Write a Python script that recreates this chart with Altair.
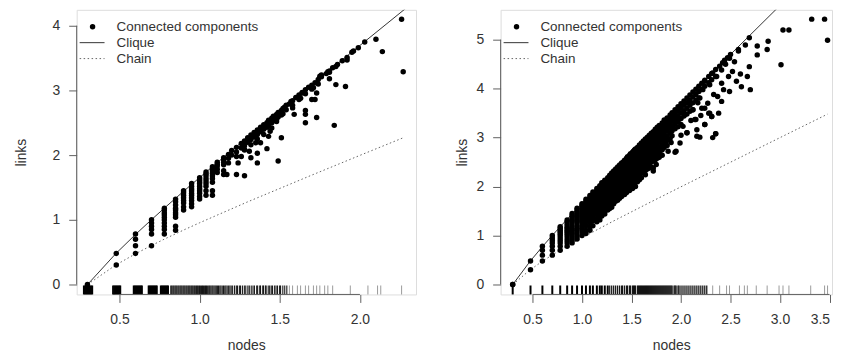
import altair as alt
import pandas as pd

# ---------------- LEFT PANEL DATA (log10 nodes, log10 links) ----------------
left_col_x = [0.30, 0.48, 0.60, 0.70, 0.78, 0.85, 0.90, 0.95, 1.00, 1.04, 1.08, 1.11, 1.15]
left_col_y = [
    [0.00],
    [0.48, 0.30],
    [0.78, 0.70, 0.60, 0.48],
    [1.00, 0.95, 0.90, 0.85, 0.78, 0.60],
    [1.18, 1.15, 1.11, 1.08, 1.04, 1.00, 0.95, 0.90, 0.85, 0.78],
    [1.32, 1.28, 1.23, 1.18, 1.15, 1.11, 1.08, 1.04, 0.90, 0.84],
    [1.45, 1.42, 1.38, 1.34, 1.30, 1.26, 1.20, 1.15],
    [1.56, 1.52, 1.48, 1.45, 1.41, 1.38, 1.34, 1.30, 1.25, 1.20],
    [1.65, 1.62, 1.59, 1.56, 1.52, 1.48, 1.45, 1.41, 1.36, 1.32],
    [1.74, 1.71, 1.68, 1.64, 1.60, 1.56, 1.52, 1.45, 1.38],
    [1.82, 1.79, 1.76, 1.72, 1.68, 1.64, 1.58, 1.45, 1.38],
    [1.89, 1.86, 1.83, 1.78, 1.73],
    [1.96, 1.93, 1.89, 1.85, 1.76, 1.70],
]
left_band_x = [1.18, 1.18, 1.18, 1.20, 1.20, 1.23, 1.23, 1.23, 1.26, 1.26, 1.28, 1.28, 1.28,
               1.30, 1.30, 1.32, 1.32, 1.32, 1.34, 1.34, 1.36, 1.36, 1.36, 1.38, 1.38,
               1.40, 1.40, 1.40, 1.42, 1.42, 1.43, 1.43, 1.45, 1.45, 1.45, 1.46, 1.46,
               1.48, 1.48, 1.49, 1.49, 1.51, 1.51, 1.52, 1.52, 1.53, 1.54, 1.54, 1.56,
               1.58, 1.58, 1.60, 1.62, 1.62, 1.64, 1.66, 1.66, 1.68, 1.70, 1.70, 1.72,
               1.74, 1.74, 1.76, 1.79, 1.81, 1.81, 1.83, 1.86, 1.89, 1.92, 1.95, 1.99,
               2.03, 2.10, 2.26]
left_band_y = [2.01, 1.95, 1.88, 2.07, 2.00, 2.12, 2.05, 1.98, 2.18, 2.11, 2.22, 2.15, 2.08,
               2.27, 2.20, 2.31, 2.24, 2.16, 2.35, 2.28, 2.39, 2.32, 2.25, 2.43, 2.36,
               2.47, 2.40, 2.32, 2.50, 2.43, 2.54, 2.46, 2.57, 2.50, 2.42, 2.60, 2.53,
               2.63, 2.55, 2.66, 2.59, 2.69, 2.62, 2.72, 2.64, 2.74, 2.77, 2.70, 2.79,
               2.84, 2.77, 2.89, 2.93, 2.86, 2.97, 3.01, 2.95, 3.05, 3.08, 3.02, 3.12,
               3.17, 3.10, 3.21, 3.26, 3.30, 3.28, 3.35, 3.40, 3.46, 3.51, 3.59, 3.66,
               3.75, 3.79, 4.10]
left_sc_x = [1.17, 1.23, 1.28, 1.24, 1.26, 1.31, 1.28, 1.32, 1.36, 1.38, 1.35, 1.42, 1.43,
             1.44, 1.48, 1.50, 1.51, 1.49, 1.36, 1.57, 1.58, 1.59, 1.62, 1.66, 1.66,
             1.73, 1.72, 1.73, 1.71, 1.70, 1.64, 1.63, 1.66, 1.75, 1.81, 1.85, 1.91,
             1.84, 1.92, 1.96, 2.14, 2.27, 1.85, 1.80, 1.76]
left_sc_y = [1.70, 1.70, 1.68, 1.88, 1.98, 2.06, 2.09, 1.96, 2.03, 2.19, 2.19, 2.10, 2.29,
             2.37, 2.52, 2.63, 2.27, 1.91, 1.88, 2.83, 2.73, 2.63, 2.91, 2.69, 2.50,
             2.58, 2.86, 2.96, 3.04, 2.86, 2.96, 2.88, 2.63, 3.22, 3.18, 3.09, 3.06,
             2.46, 3.47, 3.61, 3.60, 3.29, 3.37, 3.29, 3.24]

left_clique_x = [0.301, 0.477, 0.602, 0.699, 0.778, 0.845, 0.903, 1.0, 1.114, 1.301, 1.5, 1.699, 2.0, 2.3]
left_clique_y = [0.0, 0.477, 0.778, 1.0, 1.176, 1.322, 1.447, 1.653, 1.892, 2.279, 2.686, 3.088, 3.695, 4.297]
left_chain_x = [0.301, 0.477, 0.602, 0.699, 0.778, 0.903, 1.0, 1.301, 1.699, 2.0, 2.27]
left_chain_y = [0.0, 0.301, 0.477, 0.602, 0.699, 0.845, 0.954, 1.279, 1.690, 1.996, 2.268]

left_rug_blocks = [
    0.277, 0.283, 0.289, 0.295, 0.301, 0.307, 0.313, 0.319, 0.325, 0.331,
    0.459, 0.465, 0.471, 0.477, 0.483, 0.489, 0.495, 0.501, 0.506,
    0.588, 0.594, 0.600, 0.606, 0.612, 0.618, 0.624, 0.630, 0.636, 0.641,
    0.681, 0.687, 0.693, 0.699, 0.705, 0.711, 0.717, 0.723, 0.729, 0.734,
    0.757, 0.763, 0.769, 0.775, 0.781, 0.787, 0.793, 0.799, 0.804,
]
left_rug = [
    0.820, 0.826, 0.833, 0.839, 0.846, 0.852, 0.858, 0.865, 0.871, 0.878, 0.884, 0.890,
    0.897, 0.903, 0.909, 0.916, 0.922, 0.929, 0.935, 0.941, 0.948, 0.954, 0.960, 0.967,
    0.973, 0.980, 0.986, 0.992, 0.999, 1.005, 1.012, 1.018, 1.024, 1.031, 1.037, 1.043,
    1.050, 1.057, 1.063, 1.070, 1.077, 1.083, 1.090, 1.097, 1.104, 1.111, 1.118, 1.126,
    1.133, 1.141, 1.149, 1.157, 1.164, 1.172, 1.181, 1.189, 1.197,
    1.206, 1.218, 1.229, 1.236, 1.248, 1.255, 1.267, 1.279, 1.288, 1.301, 1.310, 1.322,
    1.333, 1.342, 1.356, 1.362, 1.375, 1.380, 1.394, 1.398, 1.410, 1.415, 1.428, 1.437,
    1.447, 1.455, 1.468, 1.477, 1.486, 1.499, 1.505, 1.519, 1.531, 1.544,
]
left_rug_light = [1.56, 1.58, 1.61, 1.63, 1.66, 1.68, 1.71, 1.73, 1.75, 1.78, 1.80, 1.83,
                  1.94, 2.05, 2.11, 2.13, 2.26]

# ---------------- RIGHT PANEL DATA ----------------
right_col_x = [0.30, 0.48, 0.60, 0.70, 0.78, 0.85, 0.90, 0.95, 1.00, 1.04, 1.08, 1.11, 1.15,
               1.18, 1.20, 1.23, 1.26, 1.28, 1.30, 1.32, 1.34, 1.36, 1.38, 1.40, 1.42, 1.43,
               1.45, 1.46, 1.48, 1.49, 1.51, 1.52, 1.53, 1.54, 1.56, 1.58, 1.60, 1.62, 1.64,
               1.66, 1.68, 1.70, 1.72, 1.74, 1.76, 1.78, 1.81, 1.83, 1.86, 1.89, 1.91, 1.94,
               1.97, 2.00, 2.03, 2.06, 2.09, 2.12, 2.15, 2.18, 2.21, 2.24, 2.28, 2.31, 2.35]
right_col_y = [
    [0.00, 0.00],
    [0.48, 0.30],
    [0.78, 0.70, 0.60, 0.48],
    [1.00, 0.95, 0.90, 0.85, 0.78, 0.70, 0.60],
    [1.18, 1.15, 1.11, 1.08, 1.04, 1.00, 0.95, 0.90, 0.85, 0.78, 0.70],
    [1.32, 1.28, 1.23, 1.18, 1.15, 1.11, 1.08, 1.04, 1.00, 0.95, 0.90, 0.85, 0.78],
    [1.45, 1.41, 1.38, 1.34, 1.30, 1.26, 1.20, 1.15, 1.11, 1.08, 1.04, 1.00, 0.95, 0.90, 0.85],
    [1.56, 1.52, 1.48, 1.45, 1.41, 1.38, 1.34, 1.30, 1.26, 1.20, 1.15, 1.11, 1.04, 0.98, 0.93],
    [1.65, 1.62, 1.58, 1.54, 1.50, 1.46, 1.42, 1.38, 1.34, 1.30, 1.26, 1.20, 1.15, 1.08, 1.00],
    [1.74, 1.70, 1.66, 1.62, 1.58, 1.54, 1.50, 1.46, 1.42, 1.38, 1.34, 1.28, 1.20, 1.11, 1.04],
    [1.82, 1.78, 1.74, 1.70, 1.66, 1.62, 1.58, 1.54, 1.50, 1.46, 1.40, 1.34, 1.26, 1.18, 1.11],
    [1.89, 1.85, 1.81, 1.77, 1.73, 1.69, 1.65, 1.61, 1.56, 1.51, 1.45, 1.38, 1.30, 1.20],
    [1.96, 1.92, 1.88, 1.84, 1.80, 1.76, 1.72, 1.67, 1.62, 1.57, 1.50, 1.43, 1.35, 1.28],
    [2.02, 1.98, 1.94, 1.90, 1.86, 1.81, 1.76, 1.71, 1.66, 1.60, 1.53, 1.45, 1.38, 1.32],
    [2.08, 2.04, 2.00, 1.95, 1.90, 1.85, 1.80, 1.74, 1.68, 1.62, 1.55, 1.48, 1.40],
    [2.13, 2.09, 2.05, 2.00, 1.95, 1.90, 1.84, 1.78, 1.72, 1.65, 1.58, 1.50, 1.44],
    [2.18, 2.14, 2.10, 2.05, 2.00, 1.94, 1.88, 1.82, 1.75, 1.68, 1.60, 1.52],
    [2.23, 2.19, 2.14, 2.09, 2.04, 1.98, 1.92, 1.85, 1.78, 1.70, 1.62, 1.55],
    [2.28, 2.23, 2.18, 2.13, 2.08, 2.02, 1.95, 1.88, 1.80, 1.72, 1.64, 1.58],
    [2.32, 2.27, 2.22, 2.17, 2.11, 2.05, 1.98, 1.90, 1.82, 1.74, 1.65],
    [2.36, 2.31, 2.26, 2.21, 2.15, 2.08, 2.01, 1.93, 1.85, 1.78, 1.70],
    [2.40, 2.35, 2.30, 2.24, 2.18, 2.11, 2.04, 1.96, 1.88, 1.80, 1.72],
    [2.44, 2.39, 2.34, 2.28, 2.22, 2.15, 2.07, 1.99, 1.91, 1.83, 1.76],
    [2.48, 2.43, 2.37, 2.31, 2.25, 2.18, 2.10, 2.02, 1.94, 1.86, 1.80],
    [2.51, 2.46, 2.40, 2.34, 2.28, 2.21, 2.13, 2.05, 1.97, 1.89],
    [2.54, 2.49, 2.43, 2.37, 2.30, 2.23, 2.15, 2.07, 1.99, 1.92, 1.84],
    [2.58, 2.52, 2.46, 2.40, 2.33, 2.26, 2.18, 2.10, 2.02, 1.94, 1.88],
    [2.61, 2.55, 2.49, 2.42, 2.35, 2.28, 2.20, 2.12, 2.04, 1.96],
    [2.64, 2.58, 2.52, 2.45, 2.38, 2.31, 2.23, 2.15, 2.07, 1.99, 1.92],
    [2.67, 2.61, 2.54, 2.47, 2.40, 2.33, 2.25, 2.17, 2.09, 2.01],
    [2.70, 2.64, 2.57, 2.50, 2.43, 2.35, 2.27, 2.19, 2.11, 2.03, 1.96],
    [2.72, 2.66, 2.59, 2.52, 2.45, 2.37, 2.29, 2.21, 2.13],
    [2.75, 2.69, 2.62, 2.55, 2.47, 2.39, 2.31, 2.23, 2.15, 2.06],
    [2.77, 2.71, 2.64, 2.57, 2.49, 2.41, 2.33, 2.25, 2.17, 2.00],
    [2.80, 2.74, 2.67, 2.60, 2.52, 2.44, 2.36, 2.28, 2.20, 2.10],
    [2.85, 2.78, 2.71, 2.64, 2.56, 2.48, 2.40, 2.32, 2.24, 2.14],
    [2.89, 2.82, 2.75, 2.68, 2.60, 2.52, 2.44, 2.36, 2.27, 2.18],
    [2.93, 2.86, 2.79, 2.71, 2.63, 2.55, 2.47, 2.39, 2.30],
    [2.97, 2.90, 2.83, 2.75, 2.67, 2.59, 2.50, 2.42, 2.33, 2.24],
    [3.01, 2.94, 2.87, 2.79, 2.71, 2.62, 2.53, 2.45, 2.36],
    [3.05, 2.98, 2.90, 2.82, 2.74, 2.65, 2.56, 2.47, 2.38],
    [3.09, 3.02, 2.94, 2.86, 2.77, 2.68, 2.59, 2.50, 2.40],
    [3.12, 3.05, 2.97, 2.89, 2.80, 2.71, 2.62, 2.52, 2.38],
    [3.17, 3.10, 3.02, 2.93, 2.84, 2.75, 2.65, 2.55],
    [3.21, 3.13, 3.05, 2.96, 2.87, 2.78, 2.68, 2.58],
    [3.25, 3.17, 3.09, 3.00, 2.91, 2.81, 2.71, 2.60],
    [3.30, 3.22, 3.13, 3.04, 2.95, 2.85, 2.75, 2.64],
    [3.36, 3.28, 3.19, 3.10, 3.00, 2.90, 2.80],
    [3.40, 3.32, 3.23, 3.14, 3.04, 2.94, 2.84],
    [3.46, 3.38, 3.29, 3.19, 3.09, 2.98],
    [3.51, 3.43, 3.34, 3.24, 3.14, 3.04],
    [3.57, 3.48, 3.39, 3.29, 3.18, 2.70],
    [3.63, 3.54, 3.44, 3.33, 3.22],
    [3.69, 3.60, 3.50, 3.39, 3.27],
    [3.75, 3.66, 3.55, 3.44],
    [3.81, 3.71, 3.60, 3.48, 3.10],
    [3.87, 3.77, 3.66, 3.54],
    [3.93, 3.83, 3.71, 3.57],
    [3.99, 3.88, 3.76, 3.37],
    [4.05, 3.94, 3.81],
    [4.11, 3.99, 3.60],
    [4.17, 4.05, 3.27],
    [4.25, 4.12, 3.50],
    [4.31, 4.18, 3.43],
    [4.39, 4.25, 3.08],
]
right_sc_x = [2.39, 2.42, 2.44, 2.47, 2.50, 2.58,
              2.43, 2.49, 2.48, 2.41, 2.52, 2.54, 2.41, 2.32, 2.29, 2.41, 2.37, 2.38, 2.19,
              2.24, 2.29, 2.31, 2.24, 2.22, 2.17, 2.12, 2.14, 2.24, 2.19, 2.32, 2.35, 2.16,
              2.06, 2.02, 1.97, 2.04, 2.08, 1.92, 1.95, 1.87, 1.84, 1.79, 1.72, 1.69, 1.77,
              1.55, 3.32, 3.45, 3.48, 3.03, 3.09, 3.01, 2.69, 2.65, 2.77, 2.88, 2.87, 2.77,
              2.58, 2.69, 2.67, 2.70, 2.61, 2.56, 2.60, 2.49, 2.45, 2.36, 2.33, 2.27, 2.20,
              2.10, 2.00, 1.90, 1.82, 1.99, 2.16, 1.75, 1.72]
right_sc_y = [4.46, 4.53, 4.58, 4.63, 4.70, 4.80,
              3.98, 3.94, 4.25, 4.11, 4.35, 4.55, 4.38, 4.32, 4.08, 3.74, 3.84, 3.50, 3.81,
              3.60, 3.50, 3.43, 4.15, 3.98, 3.71, 3.57, 3.37, 3.27, 3.01, 3.00, 3.08, 3.16,
              3.10, 3.23, 3.37, 3.47, 3.74, 3.20, 2.72, 2.72, 2.93, 2.66, 2.59, 2.79, 3.06,
              2.38, 5.42, 5.42, 4.99, 5.20, 5.20, 4.49, 5.04, 4.89, 4.87, 4.97, 4.80, 4.69,
              4.77, 4.45, 4.25, 3.98, 4.04, 4.15, 4.30, 4.62, 4.50, 4.25, 3.88, 3.70, 3.45,
              3.35, 3.05, 2.90, 2.80, 2.89, 3.03, 2.45, 2.32]

right_clique_x = [0.301, 0.477, 0.602, 0.699, 0.778, 0.845, 0.903, 1.0, 1.114, 1.301, 1.5, 1.699, 2.0, 2.5, 3.0]
right_clique_y = [0.0, 0.477, 0.778, 1.0, 1.176, 1.322, 1.447, 1.653, 1.892, 2.279, 2.686, 3.088, 3.695, 4.699, 5.699]
right_chain_x = [0.301, 0.477, 0.602, 0.699, 0.778, 0.903, 1.0, 1.301, 1.699, 2.0, 2.5, 3.0, 3.48]
right_chain_y = [0.0, 0.301, 0.477, 0.602, 0.699, 0.845, 0.954, 1.279, 1.690, 1.996, 2.498, 3.0, 3.48]

right_rug_dark = [0.30, 0.48, 0.60, 0.70, 0.78, 0.85, 0.90, 0.95, 1.00, 1.04, 1.08, 1.11,
                  1.15, 1.18, 1.20, 1.23, 1.26]
right_rug_dense = [1.28, 1.30, 1.32, 1.34, 1.36, 1.38, 1.40, 1.41, 1.43, 1.45, 1.46, 1.48,
                   1.49, 1.51, 1.52, 1.53, 1.54, 1.56, 1.57, 1.58, 1.59, 1.60, 1.61, 1.62,
                   1.63, 1.64, 1.65, 1.66, 1.67, 1.68, 1.69, 1.70, 1.71, 1.72, 1.73, 1.74,
                   1.75, 1.76, 1.77, 1.78, 1.79, 1.80, 1.81, 1.82, 1.83, 1.84, 1.85, 1.86,
                   1.87, 1.88, 1.89, 1.90, 1.91, 1.93, 1.94, 1.95, 1.97, 1.98, 2.00, 2.02,
                   2.04, 2.06, 2.08, 2.10, 2.12, 2.14, 2.16, 2.18, 2.20, 2.22, 2.24, 2.26]
right_rug_light = [2.32, 2.39, 2.46, 2.49, 2.59, 2.64, 2.67, 2.76, 2.87, 2.99, 3.03, 3.09,
                   3.31, 3.45, 3.48]

legend_labels = ["Connected components", "Clique", "Chain"]

# ---------------- BUILD ----------------
FONT = "Liberation Sans"
TEXT = "#333333"
AXIS = "#606060"
H = 286


def points_table(cols_x, cols_y, extra_x, extra_y):
    xs, ys = [], []
    for x, col in zip(cols_x, cols_y):
        for y in col:
            xs.append(x)
            ys.append(y)
    xs += list(extra_x)
    ys += list(extra_y)
    return pd.DataFrame({"x": xs, "y": ys})


def panel(pts, clq_x, clq_y, chn_x, chn_y, rugs, xdom, ydom, xticks, yticks,
          width, ytitle_pad, title_x_shift=0, flush=False):
    xs = alt.Scale(domain=xdom, nice=False, zero=False)
    ys = alt.Scale(domain=ydom, nice=False, zero=False)
    xaxis = alt.Axis(values=xticks, format=".1f", title="nodes", tickSize=8,
                     labelPadding=10, titlePadding=12, domain=False, grid=False,
                     tickColor=AXIS, labelColor=TEXT, titleColor=TEXT,
                     labelFontSize=14, titleFontSize=14, titleFontWeight="normal",
                     labelFont=FONT, titleFont=FONT,
                     labelFlush=(5 if flush else False), labelFlushOffset=0,
                     labelOverlap=False, titleX=width / 2 + title_x_shift)
    yaxis = alt.Axis(values=yticks, format=".0f", title="links", tickSize=8,
                     labelPadding=9, titlePadding=ytitle_pad, domain=False, grid=False,
                     tickColor=AXIS, labelColor=TEXT, titleColor=TEXT, labelAngle=0,
                     labelFontSize=14, titleFontSize=14, titleFontWeight="normal",
                     labelFont=FONT, titleFont=FONT, labelFlush=False,
                     labelOverlap=False)

    def ex(f):
        return alt.X(f, type="quantitative", scale=xs, axis=xaxis)

    def ey(f):
        return alt.Y(f, type="quantitative", scale=ys, axis=yaxis)

    chain = alt.Chart(pd.DataFrame({"x": chn_x, "y": chn_y})).mark_line(
        color="#666666", strokeDash=[1.5, 2.5], strokeWidth=1, clip=True
    ).encode(x=ex("x"), y=ey("y"), order=alt.Order("x:Q"))

    clique = alt.Chart(pd.DataFrame({"x": clq_x, "y": clq_y})).mark_line(
        color="#333333", strokeWidth=1, clip=True
    ).encode(x=ex("x"), y=ey("y"), order=alt.Order("x:Q"))

    dots = alt.Chart(pts).mark_circle(color="black", size=30, opacity=1).encode(
        x=ex("x"), y=ey("y"))

    rug_layers = []
    for vals, op, sw in rugs:
        rug_layers.append(
            alt.Chart(pd.DataFrame({"x": vals})).mark_rule(
                color="black", opacity=op, strokeWidth=sw
            ).encode(x=ex("x"), y=alt.value(H - 9), y2=alt.value(H))
        )

    xline = alt.Chart(pd.DataFrame({"x": [xticks[0]], "b": [xticks[-1]]})).mark_rule(
        color=AXIS, strokeWidth=1
    ).encode(x=ex("x"), x2="b", y=alt.value(H))
    yline = alt.Chart(pd.DataFrame({"y": [yticks[0]], "b": [yticks[-1]]})).mark_rule(
        color=AXIS, strokeWidth=1
    ).encode(y=ey("y"), y2="b", x=alt.value(0))

    one = pd.DataFrame({"k": [0]})
    leg_pt = alt.Chart(one).mark_circle(color="black", size=30, opacity=1).encode(
        x=alt.value(16), y=alt.value(17))
    leg_clq = alt.Chart(one).mark_rule(color="#333333", strokeWidth=1).encode(
        x=alt.value(3), x2=alt.value(28), y=alt.value(33))
    leg_chn = alt.Chart(one).mark_rule(color="#666666", strokeWidth=1,
                                       strokeDash=[1.5, 2.5]).encode(
        x=alt.value(3), x2=alt.value(28), y=alt.value(49))
    leg_txt = [
        alt.Chart(one).mark_text(align="left", baseline="middle", font=FONT,
                                 fontSize=13.5, color=TEXT).encode(
            x=alt.value(40), y=alt.value(yy), text=alt.value(lab))
        for lab, yy in zip(legend_labels, [17, 33, 49])
    ]

    return alt.layer(chain, clique, *rug_layers, xline, yline, dots,
                     leg_pt, leg_clq, leg_chn, *leg_txt).properties(width=width, height=H)


left_pts = points_table(left_col_x, left_col_y, left_band_x + left_sc_x, left_band_y + left_sc_y)
right_pts = points_table(right_col_x, right_col_y, right_sc_x, right_sc_y)

left = panel(left_pts, left_clique_x, left_clique_y, left_chain_x, left_chain_y,
             [(left_rug_blocks, 1.0, 1.6), (left_rug, 0.9, 1.1), (left_rug_light, 0.4, 1)],
             [0.233, 2.35], [-0.154, 4.246], [0.5, 1.0, 1.5, 2.0], [0, 1, 2, 3, 4],
             341, 24)
right = panel(right_pts, right_clique_x, right_clique_y, right_chain_x, right_chain_y,
              [(right_rug_dark, 1.0, 2), (right_rug_dense, 0.9, 1.3), (right_rug_light, 0.4, 1)],
              [0.178, 3.525], [-0.203, 5.61], [0.5, 1.0, 1.5, 2.0, 2.5, 3.0, 3.5], [0, 1, 2, 3, 4, 5],
              333, 6, title_x_shift=5, flush=True)

chart = alt.hconcat(left, right, spacing=38).properties(
    padding={"left": 5, "top": 0, "right": 0, "bottom": 0}
).configure_view(strokeWidth=0).configure(background="white")

chart.save("out.html", embed_options={"renderer": "svg", "actions": False})
